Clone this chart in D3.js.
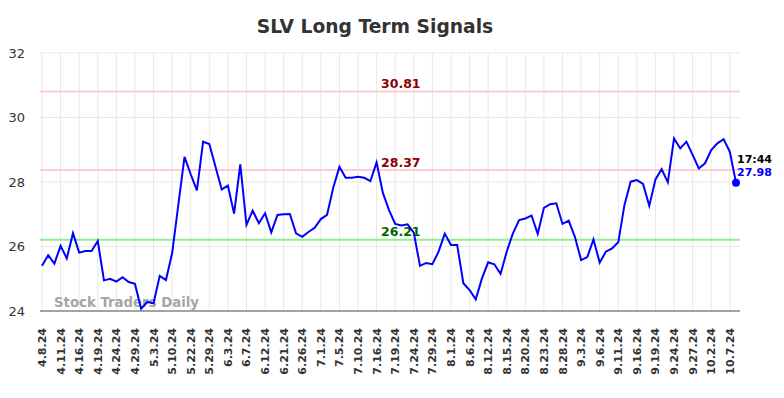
<!DOCTYPE html>
<html><head><meta charset="utf-8">
<script src="https://cdn.jsdelivr.net/npm/d3@7"></script>
<style>body{margin:0;background:#fff;} svg{display:block;font-family:"DejaVu Sans",sans-serif;}</style>
</head><body><svg id="c" width="784" height="398"></svg>
<script>
const tickLabels = ["4.8.24","4.11.24","4.16.24","4.19.24","4.24.24","4.29.24","5.3.24","5.10.24","5.22.24","5.29.24","6.3.24","6.7.24","6.12.24","6.21.24","6.26.24","7.1.24","7.5.24","7.10.24","7.16.24","7.19.24","7.24.24","7.29.24","8.1.24","8.6.24","8.12.24","8.15.24","8.20.24","8.23.24","8.28.24","9.3.24","9.6.24","9.11.24","9.16.24","9.19.24","9.24.24","9.27.24","10.2.24","10.7.24"];
const prices = [25.40,25.73,25.47,26.02,25.63,26.41,25.81,25.86,25.86,26.17,
24.95,25.00,24.91,25.05,24.90,24.84,24.07,24.28,24.24,25.09,
24.96,25.79,27.29,28.78,28.24,27.74,29.25,29.18,28.47,27.77,
27.89,27.02,28.55,26.67,27.11,26.72,27.03,26.44,26.98,27.00,
27.01,26.41,26.30,26.45,26.58,26.85,26.98,27.82,28.47,28.13,
28.13,28.16,28.13,28.03,28.61,27.67,27.13,26.70,26.65,26.69,
26.43,25.40,25.49,25.45,25.84,26.40,26.05,26.05,24.86,24.65,
24.36,25.01,25.51,25.45,25.15,25.84,26.41,26.82,26.87,26.96,
26.39,27.20,27.31,27.34,26.70,26.80,26.30,25.58,25.67,26.22,
25.50,25.84,25.94,26.13,27.29,28.01,28.06,27.94,27.26,28.08,
28.40,27.99,29.35,29.04,29.25,28.84,28.42,28.58,28.99,29.20,
29.33,28.94,27.98];
const yTicks = [24,26,28,30,32];
const levelValues = [30.81, 28.37, 26.21];
const levelLineColors = ["#ffcccc", "#ffcccc", "#90ee90"];
const levelTextColors = ["#8b0000", "#8b0000", "#006400"];
const lastTime = "17:44";
const tickStep = 3;

const svg = d3.select("#c");
const pLeft = 40, pRight = 740, pTop = 53, pBottom = 311;
const x = d3.scaleLinear().domain([0, prices.length - 1]).range([42, 736]);
const y = d3.scaleLinear().domain([24, 32]).range([pBottom, pTop]);

svg.append("text").attr("x", 375).attr("y", 33).attr("text-anchor", "middle")
  .attr("font-size", 18.7).attr("font-weight", "bold").attr("fill", "#333")
  .text("SLV Long Term Signals");

// grid
const tickIdx = tickLabels.map((d, i) => i * tickStep);
svg.append("g").selectAll("line").data(tickIdx).join("line")
  .attr("x1", d => x(d)).attr("x2", d => x(d)).attr("y1", pTop).attr("y2", pBottom)
  .attr("stroke", "#e8e8e8").attr("stroke-width", 1);
svg.append("g").selectAll("line").data(yTicks).join("line")
  .attr("x1", pLeft).attr("x2", pRight).attr("y1", d => y(d)).attr("y2", d => y(d))
  .attr("stroke", "#e8e8e8").attr("stroke-width", 1);

// y labels
svg.append("g").selectAll("text").data(yTicks).join("text")
  .attr("x", 25).attr("y", d => y(d)).attr("dy", "0.35em").attr("text-anchor", "end")
  .attr("font-size", 13).attr("fill", "#333").text(d => d);

// x labels
svg.append("g").selectAll("text").data(tickLabels).join("text")
  .attr("transform", (d, i) => `translate(${x(i * tickStep) + 4},328) rotate(-90)`)
  .attr("text-anchor", "end").attr("font-size", 11).attr("font-weight", "bold")
  .attr("fill", "#333").text(d => d);

// levels
levelValues.forEach((v, i) => {
  svg.append("line").attr("x1", pLeft).attr("x2", pRight).attr("y1", y(v)).attr("y2", y(v))
    .attr("stroke", levelLineColors[i]).attr("stroke-width", 2);
  svg.append("text").attr("x", 381).attr("y", y(v) - 3.5).attr("font-size", 12.5)
    .attr("font-weight", "bold").attr("fill", levelTextColors[i]).text(v.toFixed(2));
});

// bottom axis
svg.append("line").attr("x1", pLeft).attr("x2", pRight).attr("y1", pBottom).attr("y2", pBottom)
  .attr("stroke", "#555").attr("stroke-width", 1.2);

// watermark
svg.append("text").attr("x", 54).attr("y", 307).attr("font-size", 13.3).attr("font-weight", "bold")
  .attr("fill", "#999").attr("fill-opacity", 0.9).text("Stock Traders Daily");

// price line
svg.append("path").datum(prices)
  .attr("d", d3.line().x((d, i) => x(i)).y(d => y(d)))
  .attr("fill", "none").attr("stroke", "#0000ff").attr("stroke-width", 2);

const li = prices.length - 1;
svg.append("circle").attr("cx", x(li)).attr("cy", y(prices[li])).attr("r", 4).attr("fill", "#0000ff");
svg.append("text").attr("x", x(li) + 1).attr("y", 163).attr("font-size", 11).attr("font-weight", "bold")
  .attr("fill", "#000").text(lastTime);
svg.append("text").attr("x", x(li) + 1).attr("y", 176).attr("font-size", 11).attr("font-weight", "bold")
  .attr("fill", "#0000ff").text(prices[li].toFixed(2));
</script></body></html>
